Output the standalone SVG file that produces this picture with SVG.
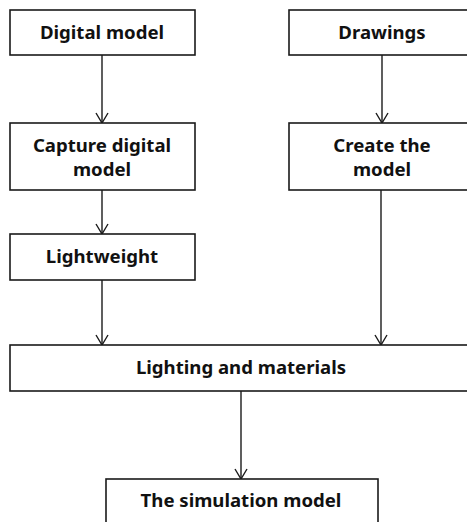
<svg xmlns="http://www.w3.org/2000/svg" width="467" height="522" viewBox="0 0 467 522">
  <defs>
    <marker id="arrow" viewBox="0 0 12 14" refX="11" refY="7" markerWidth="12" markerHeight="14" markerUnits="userSpaceOnUse" orient="auto">
      <path d="M1,1 L11,7 L1,13" fill="none" stroke="#1a1a1a" stroke-width="1.4"/>
    </marker>
    <style>
      .box { fill: #ffffff; stroke: #1a1a1a; stroke-width: 1.6; }
      .lbl { font-family: "Noto Sans", "Open Sans", "DejaVu Sans", sans-serif; font-weight: bold; font-size: 18.6px; fill: #111111; text-anchor: middle; }
      .edge { fill: none; stroke: #1a1a1a; stroke-width: 1.4; marker-end: url(#arrow); }
    </style>
  </defs>
  <rect width="467" height="522" fill="#ffffff"/>

  <g id="connectors">
    <line class="edge" x1="102" y1="55" x2="102" y2="123"/>
    <line class="edge" x1="382" y1="55" x2="382" y2="123"/>
    <line class="edge" x1="102" y1="190" x2="102" y2="234"/>
    <line class="edge" x1="102" y1="280" x2="102" y2="345"/>
    <line class="edge" x1="381" y1="190" x2="381" y2="345"/>
    <line class="edge" x1="241" y1="391" x2="241" y2="479"/>
  </g>

  <g id="digital-model">
    <rect class="box" x="10" y="10" width="185" height="45"/>
    <text class="lbl" x="102" y="39">Digital model</text>
  </g>

  <g id="drawings">
    <rect class="box" x="289" y="10" width="185" height="45"/>
    <text class="lbl" x="382" y="39">Drawings</text>
  </g>

  <g id="capture-digital-model">
    <rect class="box" x="10" y="123" width="185" height="67"/>
    <text class="lbl" x="102" y="152">Capture digital</text>
    <text class="lbl" x="102" y="176">model</text>
  </g>

  <g id="create-the-model">
    <rect class="box" x="289" y="123" width="185" height="67"/>
    <text class="lbl" x="382" y="152">Create the</text>
    <text class="lbl" x="382" y="176">model</text>
  </g>

  <g id="lightweight">
    <rect class="box" x="10" y="234" width="185" height="46"/>
    <text class="lbl" x="102" y="263">Lightweight</text>
  </g>

  <g id="lighting-and-materials">
    <rect class="box" x="10" y="345" width="470" height="46"/>
    <text class="lbl" x="241" y="374">Lighting and materials</text>
  </g>

  <g id="simulation-model">
    <rect class="box" x="106" y="479" width="272" height="50"/>
    <text class="lbl" x="241" y="507">The simulation model</text>
  </g>
</svg>
